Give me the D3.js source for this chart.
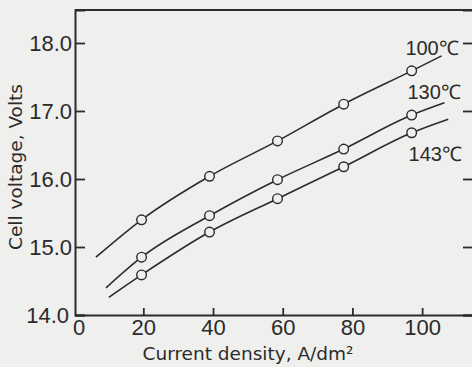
<!DOCTYPE html>
<html>
<head>
<meta charset="utf-8">
<script src="https://cdn.jsdelivr.net/npm/d3@7"></script>
<style>
  html, body { margin: 0; padding: 0; background: #efefed; }
  svg { display: block; }
</style>
</head>
<body>
<div id="chart"></div>
<script>
// current density (A/dm2) of the measured points
const currentDensity = [19.5, 39, 58.5, 77.5, 97];
// cell voltage per temperature
const seriesNames = ["100℃", "130℃", "143℃"];
const volt100 = [15.40, 16.04, 16.56, 17.10, 17.59];
const volt130 = [14.85, 15.46, 15.99, 16.44, 16.94];
const volt143 = [14.59, 15.22, 15.71, 16.18, 16.68];
// where each drawn curve starts and ends (beyond the points)
const curveStartX = [6.4, 9.3, 10.1];
const curveStartV = [14.85, 14.40, 14.26];
const curveEndX = [105.6, 106.4, 107.5];
const curveEndV = [17.81, 17.12, 16.88];
// axis ticks
const xTicks = [0, 20, 40, 60, 80, 100];
const yTicks = [14, 15, 16, 17, 18];

const W = 472, H = 367;
const margin = { top: 10, right: -1, bottom: 52, left: 75 };
const ink = "#2b2b2b";
const bg = "#efefed";
const narrow = "'Liberation Sans Narrow', 'Arial Narrow', 'Liberation Sans', sans-serif";
const wide = "'DejaVu Sans', Verdana, sans-serif";

const svg = d3.select("#chart").append("svg")
  .attr("width", W)
  .attr("height", H);

const x = d3.scaleLinear().domain([0.4, 114.6]).range([margin.left, W - margin.right]);
const y = d3.scaleLinear().domain([14, 18.485]).range([H - margin.bottom, margin.top]);

// frame line on top
svg.append("line")
  .attr("x1", margin.left).attr("x2", W + 2)
  .attr("y1", margin.top).attr("y2", margin.top)
  .attr("stroke", ink).attr("stroke-width", 1.8);

// left axis, ticks inward
const yAxis = svg.append("g")
  .attr("transform", `translate(${margin.left},0)`)
  .call(d3.axisLeft(y).tickValues(yTicks).tickSize(-10).tickPadding(3).tickFormat(d3.format(".1f")));

// right side ticks (frame edge is just outside the picture)
const yAxisR = svg.append("g")
  .attr("transform", `translate(${W + 1},0)`)
  .call(d3.axisRight(y).tickValues(yTicks).tickSize(-10).tickFormat(""));

// bottom axis, ticks inward
const xAxis = svg.append("g")
  .attr("transform", `translate(0,${H - margin.bottom})`)
  .call(d3.axisBottom(x).tickValues(xTicks).tickSize(-7).tickPadding(6).tickSizeOuter(0));

[yAxis, yAxisR, xAxis].forEach((g) => {
  g.select(".domain").attr("stroke", ink).attr("stroke-width", 2);
  g.selectAll(".tick line").attr("stroke", ink).attr("stroke-width", 1.8);
  g.selectAll(".tick text")
    .attr("fill", ink)
    .attr("font-family", narrow)
    .attr("font-size", "22px");
});
yAxis.selectAll(".tick text").attr("dy", "0.36em");
yAxis.selectAll(".tick").filter((d) => d === 14).select("text").attr("x", -6);
// the "0" sits a bit to the right of the corner
xAxis.selectAll(".tick").filter((d) => d === 0).select("line").remove();
xAxis.selectAll(".tick").filter((d) => d === 0).select("text").attr("x", 5);
xAxis.selectAll(".tick text").attr("dy", "0.62em");

// axis titles
svg.append("text")
  .attr("transform", `translate(22,${167}) rotate(-90)`)
  .attr("text-anchor", "middle")
  .attr("fill", ink)
  .attr("font-family", wide)
  .attr("font-size", "18.5px")
  .text("Cell voltage, Volts");

svg.append("text")
  .attr("x", 248)
  .attr("y", 360)
  .attr("text-anchor", "middle")
  .attr("fill", ink)
  .attr("font-family", wide)
  .attr("font-size", "18.5px")
  .text("Current density, A/dm²");

// curves and points
const allVolts = [volt100, volt130, volt143];
const line = d3.line()
  .x((d) => x(d[0]))
  .y((d) => y(d[1]))
  .curve(d3.curveMonotoneX);

allVolts.forEach((volts, i) => {
  const pts = currentDensity.map((c, j) => [c, volts[j]]);
  const curve = [[curveStartX[i], curveStartV[i]], ...pts, [curveEndX[i], curveEndV[i]]];

  svg.append("path")
    .datum(curve)
    .attr("fill", "none")
    .attr("stroke", ink)
    .attr("stroke-width", 1.6)
    .attr("d", line);

  svg.append("g").selectAll("circle")
    .data(pts)
    .enter()
    .append("circle")
    .attr("cx", (d) => x(d[0]))
    .attr("cy", (d) => y(d[1]))
    .attr("r", 4.8)
    .attr("fill", bg)
    .attr("stroke", ink)
    .attr("stroke-width", 1.4);
});

// temperature labels
const labelAt = [[95.2, 17.82], [95.8, 17.17], [96.1, 16.26]];
svg.append("g").selectAll("text")
  .data(seriesNames)
  .enter()
  .append("text")
  .attr("x", (d, i) => x(labelAt[i][0]))
  .attr("y", (d, i) => y(labelAt[i][1]))
  .attr("fill", ink)
  .attr("font-family", narrow)
  .attr("font-size", "20px")
  .text((d) => d);
</script>
</body>
</html>
